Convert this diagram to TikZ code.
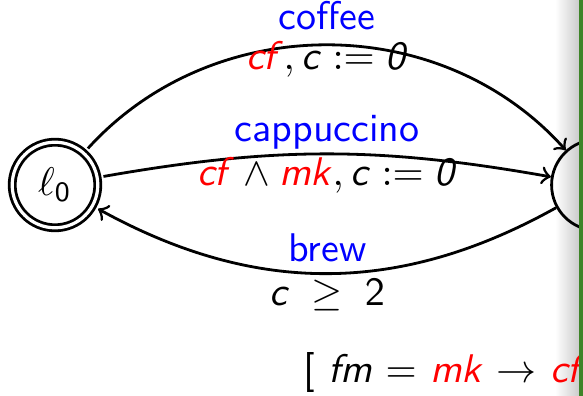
\documentclass[tikz,border=0pt]{standalone}
\usepackage{tikz}
\usetikzlibrary{positioning,arrows.meta}
\definecolor{verdebarra}{RGB}{62,132,40}
\newcommand{\mvar}[1]{\textsf{\textit{#1}}}

\begin{document}
\begin{tikzpicture}[
    x=0.25pt, y=-0.25pt,
    font=\sffamily,
    line width=0.7pt,
    state/.style={circle, draw, minimum size=22.75pt, inner sep=0pt},
    initstate/.style={state, double, double distance=0.8pt, minimum size=21.4pt, outer sep=1.6pt},
    action/.style={midway, text=blue, anchor=base, yshift=3pt},
    guard/.style={midway, anchor=base, yshift=-8pt},
    >=to
  ]
    \useasboundingbox (0,0) rectangle (583,396);
    % sombra del borde de la diapositiva
    \shade[left color=white, right color=black!20, draw=none] (555,0) rectangle (579,396);

    \node[initstate] (l0) at (55,185) {$\ell_\mathsf{0}$};
    \node[state, right=111.5pt of l0] (l1) {$\ell_\mathsf{1}$};

    \draw[->] (l0) to[bend left=48]
      node[action, yshift=1pt] {coffee}
      node[guard, yshift=2pt] {$\textcolor{red}{\mvar{cf}}, \mvar{c} := \mvar{0}$} (l1);
    \draw[->] (l0) to[bend left=10]
      node[action] {cappuccino}
      node[guard] {$\textcolor{red}{\mvar{cf}} \wedge \textcolor{red}{\mvar{mk}}, \mvar{c} := \mvar{0}$} (l1);
    \draw[->] (l1) to[bend left=29]
      node[action] {brew}
      node[guard] {$\mvar{c} \;\geq\; \mathsf{2}$} (l0);

    \node[anchor=base west, inner sep=0pt] (restr) at (302,383)
      {[ \mvar{fm} $=$ \textcolor{red}{\mvar{mk}} $\rightarrow$ \textcolor{red}{\mvar{cf}}};

    \fill[verdebarra] (579,0) rectangle (583,396);
\end{tikzpicture}
\end{document}
